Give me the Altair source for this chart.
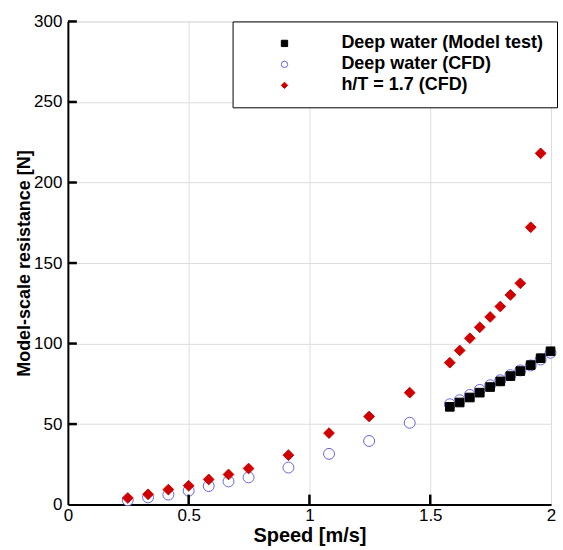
import altair as alt
import pandas as pd

# Deep water (Model test)
mt_speed = [1.581, 1.622, 1.664, 1.705, 1.748, 1.790, 1.832, 1.873, 1.916, 1.957, 1.998]
mt_res = [60.7, 63.4, 66.5, 69.5, 73.0, 76.5, 79.8, 82.9, 86.6, 90.9, 95.2]

# Deep water (CFD)
cfd_speed = [0.248, 0.332, 0.416, 0.500, 0.583, 0.665, 0.748, 0.913, 1.081, 1.247, 1.415,
             1.581, 1.622, 1.664, 1.705, 1.748, 1.790, 1.832, 1.873, 1.916, 1.957, 1.998]
cfd_res = [2.7, 4.5, 6.2, 8.6, 11.5, 14.4, 16.9, 23.0, 31.5, 39.5, 50.8,
           62.3, 64.8, 68.1, 71.2, 74.1, 77.2, 80.4, 83.3, 86.4, 90.1, 94.3]

# h/T = 1.7 (CFD)
sh_speed = [0.248, 0.332, 0.416, 0.500, 0.583, 0.665, 0.748, 0.913, 1.081, 1.247, 1.415,
            1.581, 1.622, 1.664, 1.705, 1.748, 1.790, 1.832, 1.873, 1.916, 1.957]
sh_res = [4.1, 6.4, 9.3, 11.7, 15.6, 18.7, 22.4, 30.7, 44.4, 54.7, 69.5,
          88.1, 95.7, 103.3, 110.1, 116.5, 123.0, 130.2, 137.4, 172.2, 218.1]

series_names = ["Deep water (Model test)", "Deep water (CFD)", "h/T = 1.7 (CFD)"]
x_ticks = [0, 0.5, 1, 1.5, 2]
y_ticks = [0, 50, 100, 150, 200, 250, 300]

df_mt = pd.DataFrame({"speed": mt_speed, "res": mt_res, "series": series_names[0]})
df_cfd = pd.DataFrame({"speed": cfd_speed, "res": cfd_res, "series": series_names[1]})
df_sh = pd.DataFrame({"speed": sh_speed, "res": sh_res, "series": series_names[2]})

W = 484
H = 484

legend = alt.Legend(
    title=None, orient="none", legendX=165, legendY=0,
    strokeColor="black", fillColor="white", cornerRadius=0,
    padding=13, symbolOffset=30, labelOffset=48, rowPadding=3,
    labelFont="Liberation Sans", labelFontSize=18, labelFontWeight="bold",
    labelColor="black", symbolSize=40, symbolStrokeWidth=1, labelLimit=400,
)

dom = series_names
fill_scale = alt.Scale(domain=dom, range=["black", "white", "#d00000"])
stroke_scale = alt.Scale(domain=dom, range=["black", "#6464e0", "#d00000"])
shape_scale = alt.Scale(domain=dom, range=["square", "circle", "diamond"])

xs = alt.Scale(domain=[0, 2], nice=False)
ys = alt.Scale(domain=[0, 300], nice=False)

x_axis = alt.Axis(values=x_ticks, format="~g", tickSize=0, domainWidth=2, domainColor="black",
                  gridColor="#dddddd", gridWidth=1, labelFontSize=17, zindex=0,
                  labelFont="Liberation Sans", labelColor="black", labelPadding=3,
                  titleFont="Liberation Sans", titleFontSize=20, titleFontWeight="bold",
                  titleColor="black", titlePadding=2, labelFlush=False)
y_axis = alt.Axis(values=y_ticks, tickSize=0, domainWidth=2, domainColor="black",
                  gridColor="#dddddd", gridWidth=1, labelFontSize=17, zindex=0,
                  labelFont="Liberation Sans", labelColor="black", labelPadding=6,
                  titleFont="Liberation Sans", titleFontSize=18, titleFontWeight="bold",
                  titleColor="black", titlePadding=0, labelFlush=False)
X_TITLE = "Speed [m/s]"
Y_TITLE = "Model-scale resistance [N]"


def xq(field):
    return alt.X(field, type="quantitative", scale=xs, title=X_TITLE, axis=x_axis)


def yq(field):
    return alt.Y(field, type="quantitative", scale=ys, title=Y_TITLE, axis=y_axis)


def layer(d, size):
    return alt.Chart(d).mark_point(opacity=1, strokeWidth=1, fillOpacity=1, size=size).encode(
        x=xq("speed"), y=yq("res"),
        fill=alt.Fill("series:N", scale=fill_scale, legend=legend),
        stroke=alt.Stroke("series:N", scale=stroke_scale, legend=legend),
        shape=alt.Shape("series:N", scale=shape_scale, legend=legend),
    )


l_cfd = layer(df_cfd, 120)
l_mt = layer(df_mt, 75)
l_sh = layer(df_sh, 115)

# inward tick marks drawn as short rules (tick value, from axis to a short length in data units)
xt = pd.DataFrame({"speed": x_ticks[1:-1], "res": 0.0, "res2": 10 * 300 / H})
yt = pd.DataFrame({"res": y_ticks[1:], "speed": 0.0, "speed2": 9 * 2 / W})
xrule = alt.Chart(xt).mark_rule(color="black", strokeWidth=2.5).encode(
    x=xq("speed"), y=yq("res"), y2="res2:Q",
)
yrule = alt.Chart(yt).mark_rule(color="black", strokeWidth=2.5).encode(
    y=yq("res"), x=xq("speed"), x2="speed2:Q",
)

chart = alt.layer(l_cfd, l_mt, l_sh, xrule, yrule).properties(
    width=W, height=H
).configure_view(stroke=None).configure(
    background="white", padding={"left": 15, "top": 12, "right": 5, "bottom": 5}
)

chart.save("out.html", embed_options={"renderer": "svg", "actions": False})
